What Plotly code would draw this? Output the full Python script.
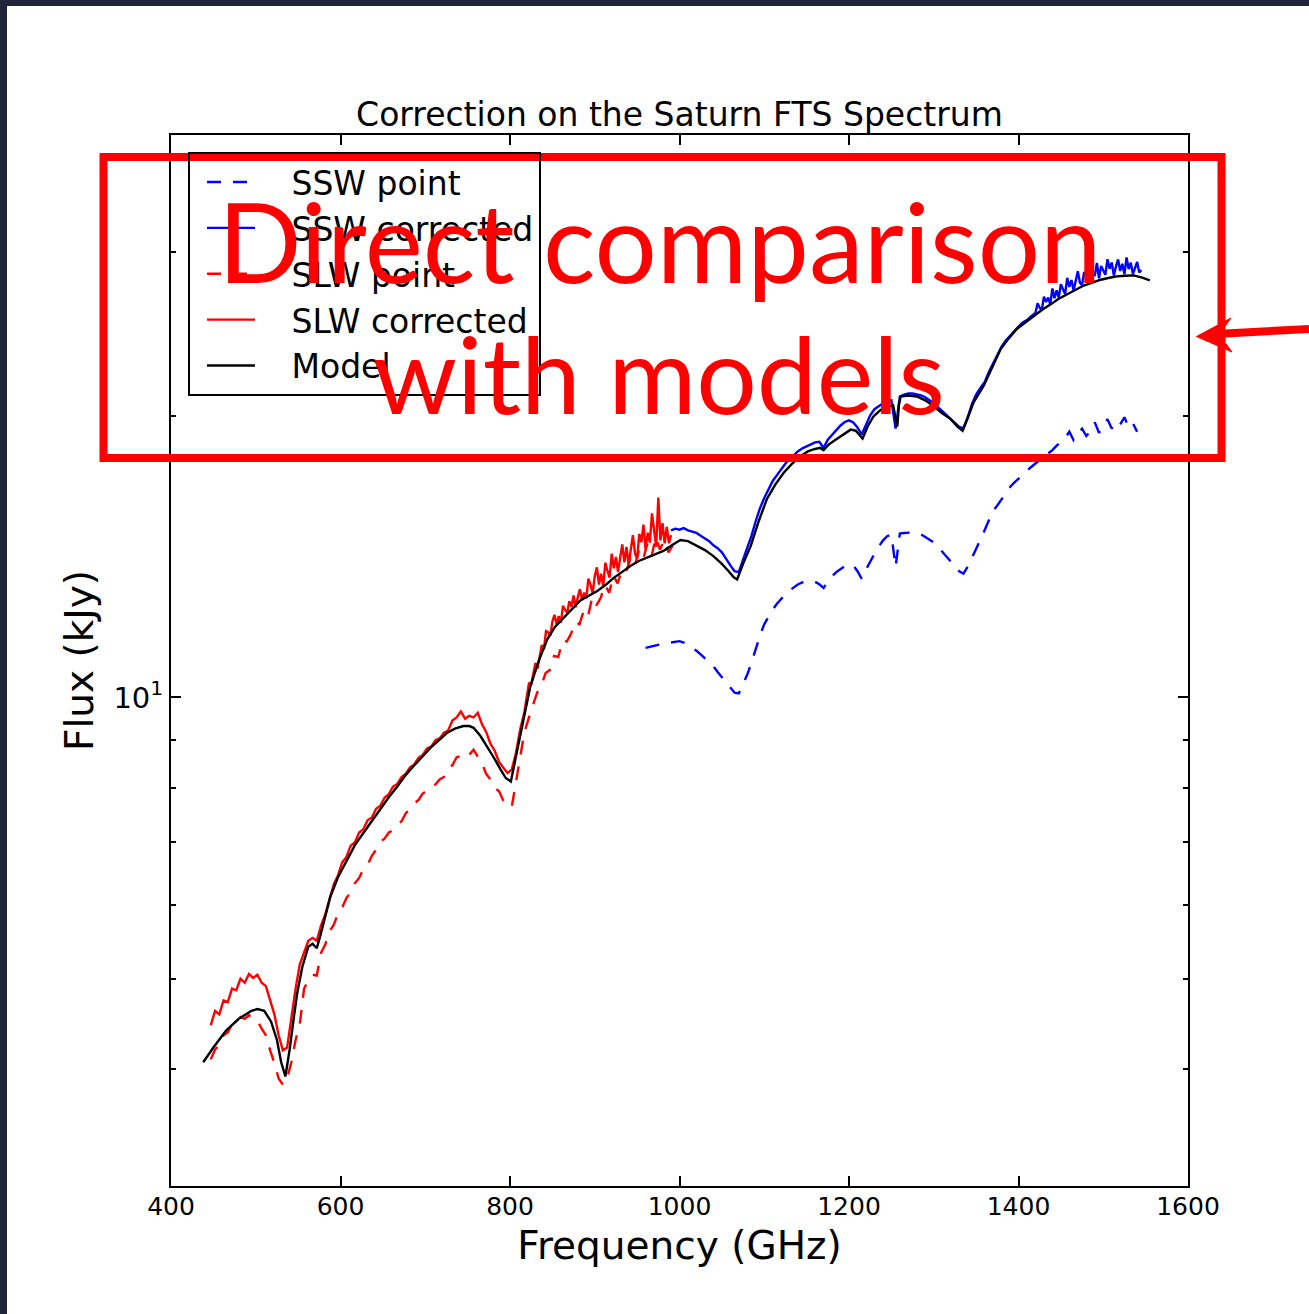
import math
import plotly.graph_objects as go

# ---------------------------------------------------------------- data
# Model spectrum (kJy) at the sampled frequencies (GHz)
model_freq = [438, 450, 465, 480, 495, 502, 510, 518, 525, 530, 535, 540, 545, 549, 555, 562, 567, 572, 576, 580,
              588, 597, 608, 617, 627, 637, 647, 657, 667, 676, 686, 696, 706, 716, 726, 735, 745, 752, 757, 765,
              773, 781, 789, 795, 801, 806, 812, 818, 824, 834, 844, 853, 863, 873, 883, 893, 903, 913, 922, 932,
              942, 952, 962, 972, 981, 991, 1001, 1010, 1020, 1030, 1040, 1050, 1058, 1064, 1068, 1075, 1084, 1093,
              1103, 1113, 1123, 1133, 1143, 1152, 1160, 1166, 1170, 1176, 1182, 1192, 1202, 1208, 1213, 1216, 1222,
              1229, 1237, 1245, 1252, 1255, 1257, 1259, 1261, 1270, 1280, 1290, 1300, 1310, 1320, 1328, 1334, 1340,
              1347, 1359, 1369, 1379, 1388, 1398, 1408, 1418, 1428, 1438, 1447, 1457, 1467, 1477, 1487, 1497, 1506,
              1516, 1526, 1536, 1546, 1555]
model_flux = [4.07, 4.22, 4.40, 4.53, 4.62, 4.64, 4.62, 4.50, 4.30, 4.07, 3.93, 4.20, 4.55, 4.83, 5.15, 5.41, 5.45,
              5.39, 5.55, 5.74, 6.12, 6.42, 6.71, 6.95, 7.16, 7.38, 7.59, 7.82, 8.03, 8.24, 8.44, 8.64, 8.83, 9.00,
              9.17, 9.26, 9.32, 9.32, 9.28, 9.10, 8.87, 8.62, 8.37, 8.20, 8.13, 8.55, 9.09, 9.60, 10.28, 10.95, 11.54,
              11.90, 12.17, 12.45, 12.70, 12.85, 13.00, 13.20, 13.42, 13.62, 13.83, 14.00, 14.12, 14.25, 14.35,
              14.55, 14.74, 14.70, 14.55, 14.38, 14.17, 13.90, 13.65, 13.45, 13.38, 13.90, 14.52, 15.40, 16.30,
              16.90, 17.40, 17.80, 18.14, 18.35, 18.45, 18.50, 18.40, 18.65, 18.82, 19.10, 19.35, 19.30, 19.05,
              18.93, 19.50, 20.00, 20.30, 20.50, 20.55, 20.00, 19.50, 20.60, 21.00, 21.05, 21.00, 20.80, 20.50,
              20.15, 19.86, 19.50, 19.30, 19.90, 20.70, 21.56, 22.60, 23.60, 24.20, 24.80, 25.20, 25.60, 26.00,
              26.35, 26.70, 27.00, 27.30, 27.60, 27.80, 28.00, 28.12, 28.23, 28.28, 28.30, 28.15, 27.96]

# SLW detector band, corrected spectrum (5 GHz sampling below 820 GHz, 2.5 GHz above)
slw_corr_freq = [447, 452, 457, 462, 467, 472, 477, 482, 487, 492, 497, 502, 507, 512, 517, 522, 527, 532, 537,
                 542, 547, 552, 557, 562, 567, 572, 577, 582, 587, 592, 597, 602, 607, 612, 617, 622, 627, 632,
                 637, 642, 647, 652, 657, 662, 667, 672, 677, 682, 687, 692, 697, 702, 707, 712, 717, 722, 727,
                 732, 737, 742, 747, 752, 757, 762, 767, 772, 777, 782, 787, 792, 797, 802, 807, 812, 817,
                 820, 822.5, 825, 827.5, 830, 832.5, 835, 837.5, 840, 842.5, 845, 847.5, 850, 852.5, 855, 857.5,
                 860, 862.5, 865, 867.5, 870, 872.5, 875, 877.5, 880, 882.5, 885, 887.5, 890, 892.5, 895, 897.5,
                 900, 902.5, 905, 907.5, 910, 912.5, 915, 917.5, 920, 922.5, 925, 927.5, 930, 932.5, 935, 937.5,
                 940, 942.5, 945, 947.5, 950, 952.5, 955, 957.5, 960, 962.5, 965, 967.5, 970, 972.5, 975, 977.5,
                 980, 982.5, 985, 987.5, 990]
slw_corrected = [4.46, 4.62, 4.58, 4.74, 4.72, 4.88, 4.86, 5.00, 4.95, 5.06, 5.01, 5.05, 4.95, 4.91, 4.74, 4.58,
                 4.35, 4.19, 4.22, 4.57, 4.88, 5.18, 5.33, 5.49, 5.53, 5.49, 5.70, 5.86, 6.08, 6.31, 6.45, 6.66,
                 6.75, 6.94, 7.00, 7.17, 7.23, 7.39, 7.44, 7.60, 7.66, 7.81, 7.88, 8.03, 8.08, 8.22, 8.29, 8.42,
                 8.48, 8.62, 8.68, 8.82, 8.86, 9.00, 9.04, 9.17, 9.22, 9.45, 9.52, 9.66, 9.49, 9.56, 9.52, 9.63,
                 9.36, 9.18, 8.92, 8.77, 8.53, 8.42, 8.30, 8.37, 8.72, 9.24, 9.65,
                 10.05, 10.37, 10.32, 10.57, 10.89, 10.74, 11.02, 11.38, 11.26, 11.78, 11.75, 11.64, 12.06, 12.26,
                 11.98, 12.22, 12.02, 12.53, 12.42, 12.31, 12.68, 12.50, 12.86, 12.49, 12.80, 13.06, 12.72, 12.95,
                 12.77, 13.40, 13.21, 12.94, 13.48, 13.78, 13.21, 13.57, 13.16, 13.94, 13.66, 13.44, 14.25, 13.75,
                 14.14, 13.62, 14.11, 14.58, 13.95, 14.49, 13.87, 14.43, 14.92, 14.27, 14.07, 14.97, 14.66, 15.31,
                 14.40, 15.01, 14.65, 15.74, 15.13, 14.50, 16.37, 14.73, 15.37, 14.62, 15.23, 14.63, 14.92]

# SLW detector band, point-source calibrated spectrum
slw_point_freq = [447, 452, 457, 462, 467, 472, 477, 482, 487, 492, 497, 502, 507, 512, 517, 522, 527, 532, 537,
                  542, 547, 552, 557, 562, 567, 572, 577, 582, 587, 592, 597, 602, 607, 612, 617, 622, 627, 632,
                  637, 642, 647, 652, 657, 662, 667, 672, 677, 682, 687, 692, 697, 702, 707, 712, 717, 722, 727,
                  732, 737, 742, 747, 752, 757, 762, 767, 772, 777, 782, 787, 792, 797, 802, 807, 812, 817, 822,
                  827, 832, 837, 842, 847, 852, 857, 862, 867, 872, 877, 882, 887, 892, 897, 902, 907, 912, 917,
                  922, 927, 932, 937, 942, 947, 952, 957, 962, 967, 972, 977, 982, 987, 992]
slw_point = [4.10, 4.20, 4.24, 4.35, 4.38, 4.47, 4.48, 4.55, 4.53, 4.57, 4.52, 4.51, 4.42, 4.35, 4.19, 4.06,
             3.91, 3.85, 3.91, 4.07, 4.30, 4.47, 4.88, 4.98, 5.05, 5.04, 5.33, 5.44, 5.62, 5.71, 5.87, 5.96,
             6.10, 6.19, 6.33, 6.41, 6.55, 6.62, 6.77, 6.87, 7.01, 7.06, 7.17, 7.21, 7.31, 7.37, 7.52, 7.59,
             7.70, 7.77, 7.89, 7.95, 8.05, 8.07, 8.17, 8.22, 8.40, 8.46, 8.63, 8.66, 8.74, 8.69, 8.79, 8.64,
             8.50, 8.28, 8.17, 8.00, 7.94, 7.76, 7.67, 7.63, 8.12, 8.63, 9.18, 9.50, 9.80, 10.12, 10.30, 10.62,
             10.70, 11.08, 11.05, 11.52, 11.48, 11.70, 12.05, 11.98, 12.38, 12.20, 12.80, 12.55, 12.78, 13.20,
             12.95, 13.50, 13.25, 13.70, 13.62, 14.10, 13.80, 14.35, 14.05, 14.60, 14.15, 14.85, 14.40, 14.75,
             14.30, 14.55]

# SSW detector band, corrected spectrum (2.5 GHz sampling above 1420 GHz)
ssw_corr_freq = [990, 995, 1000, 1005, 1010, 1015, 1020, 1025, 1030, 1035, 1040, 1045, 1050, 1055, 1060, 1065,
                 1070, 1075, 1080, 1085, 1090, 1095, 1100, 1105, 1110, 1115, 1120, 1125, 1130, 1135, 1140, 1145,
                 1150, 1155, 1160, 1165, 1170, 1175, 1180, 1185, 1190, 1195, 1200, 1205, 1210, 1215, 1220, 1225,
                 1230, 1235, 1240, 1245, 1250, 1255, 1260, 1265, 1270, 1275, 1280, 1285, 1290, 1295, 1300, 1305,
                 1310, 1315, 1320, 1325, 1330, 1335, 1340, 1345, 1350, 1355, 1360, 1365, 1370, 1375, 1380, 1385,
                 1390, 1395, 1400, 1405, 1410, 1415,
                 1420, 1422.5, 1425, 1427.5, 1430, 1432.5, 1435, 1437.5, 1440, 1442.5, 1445, 1447.5, 1450, 1452.5,
                 1455, 1457.5, 1460, 1462.5, 1465, 1467.5, 1470, 1472.5, 1475, 1477.5, 1480, 1482.5, 1485, 1487.5,
                 1490, 1492.5, 1495, 1497.5, 1500, 1502.5, 1505, 1507.5, 1510, 1512.5, 1515, 1517.5, 1520, 1522.5,
                 1525, 1527.5, 1530, 1532.5, 1535, 1537.5, 1540, 1542.5, 1545]
ssw_corrected = [15.10, 15.16, 15.12, 15.18, 15.10, 15.05, 15.00, 14.90, 14.80, 14.70, 14.55, 14.45, 14.30,
                 14.05, 13.85, 13.65, 13.62, 14.05, 14.48, 14.90, 15.45, 15.95, 16.35, 16.70, 17.05, 17.30,
                 17.55, 17.80, 18.00, 18.18, 18.35, 18.48, 18.58, 18.68, 18.75, 18.78, 18.50, 18.88, 19.10,
                 19.35, 19.55, 19.72, 19.80, 19.70, 19.45, 19.12, 19.55, 20.05, 20.35, 20.52, 20.65, 20.72,
                 20.80, 19.40, 21.00, 21.10, 21.15, 21.15, 21.10, 21.05, 20.95, 20.80, 20.65, 20.45, 20.25,
                 20.05, 19.85, 19.65, 19.48, 19.42, 19.95, 20.60, 21.10, 21.45, 21.75, 22.30, 22.80, 23.30,
                 23.75, 24.10, 24.40, 24.70, 24.95, 25.20, 25.35, 25.60,
                 25.80, 26.42, 26.13, 25.97, 26.86, 26.51, 26.80, 26.34, 27.40, 26.75, 27.28, 26.79, 27.70, 27.35,
                 27.03, 28.13, 27.51, 27.98, 27.28, 27.91, 28.59, 27.80, 27.63, 28.55, 28.17, 28.84, 27.93, 28.58,
                 28.26, 29.18, 28.10, 28.97, 28.66, 28.34, 29.45, 28.76, 29.21, 28.28, 28.92, 29.44, 28.61, 29.12,
                 28.38, 29.58, 28.75, 29.20, 28.39, 28.90, 29.25, 28.51, 28.68]

# SSW detector band, point-source calibrated spectrum
ssw_point_freq = [960, 965, 970, 975, 980, 985, 990, 995, 1000, 1005, 1010, 1015, 1020, 1025, 1030, 1035, 1040,
                  1045, 1050, 1055, 1060, 1065, 1070, 1075, 1080, 1085, 1090, 1095, 1100, 1105, 1110, 1115, 1120,
                  1125, 1130, 1135, 1140, 1145, 1150, 1155, 1160, 1165, 1170, 1175, 1180, 1185, 1190, 1195, 1200,
                  1205, 1210, 1215, 1220, 1225, 1230, 1235, 1240, 1245, 1250, 1255, 1260, 1265, 1270, 1275, 1280,
                  1285, 1290, 1295, 1300, 1305, 1310, 1315, 1320, 1325, 1330, 1335, 1340, 1345, 1350, 1355, 1360,
                  1365, 1370, 1375, 1380, 1385, 1390, 1395, 1400, 1405, 1410, 1415, 1420, 1425, 1430, 1435, 1440,
                  1445, 1450, 1455, 1460, 1465, 1470, 1475, 1480, 1485, 1490, 1495, 1500, 1505, 1510, 1515, 1520,
                  1525, 1530, 1535, 1540]
ssw_point = [11.30, 11.33, 11.36, 11.40, 11.42, 11.44, 11.45, 11.48, 11.49, 11.45, 11.38, 11.30, 11.22, 11.12,
             11.02, 10.92, 10.80, 10.65, 10.52, 10.40, 10.25, 10.12, 10.10, 10.32, 10.58, 10.90, 11.28, 11.65,
             11.98, 12.22, 12.42, 12.60, 12.76, 12.90, 13.02, 13.12, 13.22, 13.28, 13.32, 13.33, 13.30, 13.22,
             13.10, 13.30, 13.48, 13.62, 13.72, 13.82, 13.88, 13.85, 13.65, 13.40, 13.70, 14.00, 14.25, 14.50,
             14.72, 14.88, 14.94, 13.80, 14.98, 15.00, 15.02, 15.02, 15.00, 14.95, 14.85, 14.75, 14.65, 14.50,
             14.32, 14.15, 14.00, 13.82, 13.65, 13.57, 13.80, 14.10, 14.40, 14.75, 15.10, 15.45, 15.85, 16.05,
             16.30, 16.55, 16.80, 16.98, 17.15, 17.32, 17.50, 17.65, 17.80, 17.95, 18.10, 18.25, 18.40, 18.60,
             18.76, 18.95, 19.25, 18.85, 19.12, 19.40, 19.05, 19.30, 19.70, 19.20, 19.55, 19.85, 19.40, 19.75,
             19.60, 19.95, 19.45, 19.65, 19.25]

x_ticks = [400, 600, 800, 1000, 1200, 1400, 1600]
y_major = [10]
y_major_text = ["10<sup>1</sup>"]
y_minor = [3, 4, 5, 6, 7, 8, 9, 20, 30, 40]

# ---------------------------------------------------------------- layout geometry (px)
W, H = 1309, 1314
L, R, T, B = 171, 1188, 135, 1186


def px(xp):
    return (xp - L) / (R - L)


def py(yp):
    return (B - yp) / (B - T)


BASE = "DejaVu Sans"
DASH = "14px,12px"
GAP = "\u00a0\u00a0\u00a0"  # space between legend sample line and label
LW = 2.4

fig = go.Figure()
series = [
    ("SSW point", ssw_point_freq, ssw_point, "#0000ff", DASH),
    ("SSW corrected", ssw_corr_freq, ssw_corrected, "#0000ff", "solid"),
    ("SLW point", slw_point_freq, slw_point, "#ff0000", DASH),
    ("SLW corrected", slw_corr_freq, slw_corrected, "#ff0000", "solid"),
    ("Model", model_freq, model_flux, "#000000", "solid"),
]
for i, (name, xs, ys, col, dash) in enumerate(series):
    fig.add_trace(go.Scatter(x=xs, y=ys, mode="lines", name=GAP + name, legendgroup=f"g{i}",
                             line=dict(color=col, width=LW, dash=dash)))

fig.update_layout(
    width=W, height=H, autosize=False,
    margin=dict(l=L, r=W - R, t=T, b=H - B, pad=0),
    paper_bgcolor="white", plot_bgcolor="white",
    font=dict(family=BASE, color="black"),
    title=dict(text="Correction on the Saturn FTS Spectrum", font=dict(size=33, family=BASE),
               x=679.5 / W, xanchor="center", xref="container",
               y=1 - 114 / H, yanchor="middle", yref="container"),
    showlegend=True,
    legend=dict(x=px(188), y=py(152), xanchor="left", yanchor="top",
                bgcolor="rgba(255,255,255,0)", bordercolor="black", borderwidth=2,
                font=dict(size=33, family=BASE), tracegroupgap=4.6, traceorder="normal",
                itemwidth=48, indentation=12),
)

fig.update_xaxes(
    range=[400, 1600], tickvals=x_ticks, ticks="inside", ticklen=10, tickwidth=1.5, tickcolor="black",
    showline=True, linecolor="black", linewidth=2, mirror="ticks", showgrid=False, zeroline=False,
    tickfont=dict(size=25, family=BASE), ticklabelstandoff=-3,
    title=dict(text="Frequency (GHz)", font=dict(size=39, family=BASE), standoff=12),
)
fig.update_yaxes(
    type="log", range=[math.log10(3), math.log10(40)],
    tickvals=y_major, ticktext=y_major_text, ticks="inside", ticklen=10, tickwidth=1.5, tickcolor="black",
    minor=dict(tickvals=y_minor, ticks="inside", ticklen=5, tickwidth=1.5, tickcolor="black", showgrid=False),
    showline=True, linecolor="black", linewidth=2, mirror="ticks", showgrid=False, zeroline=False,
    tickfont=dict(size=29, family=BASE),
    title=dict(text="Flux (kJy)", font=dict(size=39, family=BASE), standoff=8),
)

# slide frame (dark edges) and the red call-out box with its arrow
DARK = "#22243a"
RED = "#ff0000"
shapes = [
    dict(type="rect", xref="paper", yref="paper", x0=px(0), x1=px(W), y0=py(0), y1=py(6),
         fillcolor=DARK, line=dict(width=0), layer="above"),
    dict(type="rect", xref="paper", yref="paper", x0=px(0), x1=px(7), y0=py(0), y1=py(H),
         fillcolor=DARK, line=dict(width=0), layer="above"),
    dict(type="rect", xref="paper", yref="paper", x0=px(103.5), x1=px(1221.5), y0=py(157), y1=py(458),
         line=dict(color=RED, width=8), fillcolor="rgba(0,0,0,0)", layer="above"),
    dict(type="line", xref="paper", yref="paper", x0=px(W), y0=py(329), x1=px(1216), y1=py(334),
         line=dict(color=RED, width=8), layer="above"),
    dict(type="path", xref="paper", yref="paper",
         path=(f"M{px(1196.5)},{py(336.5)} L{px(1231)},{py(318)} L{px(1219)},{py(334.5)} "
               f"L{px(1232)},{py(352)} Z"),
         fillcolor=RED, line=dict(color=RED, width=1), layer="above"),
]
fig.update_layout(shapes=shapes)

fig.add_annotation(text="Direct comparison", xref="paper", yref="paper", x=px(659.5), y=py(240),
                   xanchor="center", yanchor="middle", showarrow=False,
                   font=dict(family="Lato", size=110, color=RED))
fig.add_annotation(text="with models", xref="paper", yref="paper", x=px(659), y=py(373),
                   xanchor="center", yanchor="middle", showarrow=False,
                   font=dict(family="Lato", size=107, color=RED))

fig.write_html("out.html")
